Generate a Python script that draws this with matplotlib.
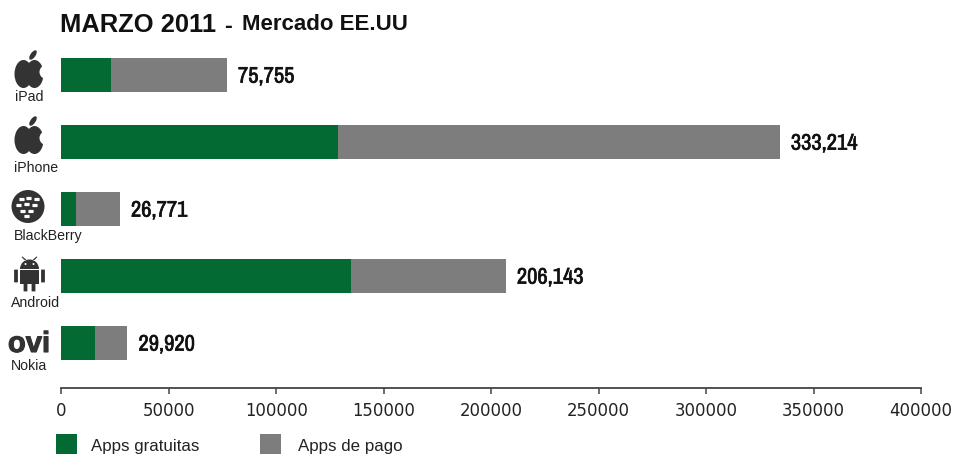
import matplotlib
matplotlib.use("Agg")
import matplotlib.pyplot as plt
import matplotlib.patheffects as pe
from matplotlib.patches import Ellipse, Circle, Rectangle, FancyBboxPatch, Polygon, Wedge
from matplotlib import font_manager as fm

platforms = ["iPad", "iPhone", "BlackBerry", "Android", "Nokia"]
free_apps = [23000, 128700, 6750, 134700, 15400]
paid_apps = [54000, 205600, 20450, 72100, 15300]
total_labels = ["75,755", "333,214", "26,771", "206,143", "29,920"]
xticks = [0, 50000, 100000, 150000, 200000, 250000, 300000, 350000, 400000]
GREEN = "#026a32"
GRAY = "#7d7d7d"
DARK = "#333333"

names = sorted({f.name for f in fm.fontManager.ttflist})
cands = [n for n in names if ("Narrow" in n or "Condensed" in n) and "DejaVu" not in n]
narrow = cands[0] if cands else "Liberation Sans"
label_size = 16.2 if cands else 14

W, H = 956, 454
fig = plt.figure(figsize=(W / 100, H / 100), dpi=100, facecolor="white")
ax = fig.add_axes([61.5 / W, 1 - 388 / H, (921 - 61.5) / W, (388 - 41) / H])
ax.set_xlim(0, 400000)
ax.set_ylim(4.67, -0.51)
ypos = list(range(len(platforms)))
ax.barh(ypos, free_apps, height=0.507, color=GREEN, linewidth=0)
ax.barh(ypos, paid_apps, left=free_apps, height=0.507, color=GRAY, linewidth=0)
for y, f, p, lab in zip(ypos, free_apps, paid_apps, total_labels):
    ax.annotate(lab, (f + p, y), xytext=(11, -1.5), textcoords="offset pixels", va="center", ha="left",
                fontsize=label_size, fontweight="bold", family=narrow, color="#111111",
                path_effects=[pe.withStroke(linewidth=0.45, foreground="#111111")])
for s in ("top", "left", "right"):
    ax.spines[s].set_visible(False)
ax.spines["bottom"].set_color("#444444")
ax.spines["bottom"].set_linewidth(1.3)
ax.set_yticks([])
ax.set_xticks(xticks)
ax.set_xticklabels([str(t) for t in xticks], fontsize=11.9, family="DejaVu Sans", color="#222222")
ax.tick_params(axis="x", length=4, width=1.1, color="#444444", pad=6)

ov = fig.add_axes([0, 0, 1, 1], facecolor="none")
ov.set_xlim(0, W)
ov.set_ylim(H, 0)
ov.axis("off")
ov.set_aspect("equal")
ov.text(60, 25, "MARZO 2011", fontsize=18.4, fontweight="bold", family="Liberation Sans", va="center", color="#111111")
ov.text(224, 26, "-", fontsize=17, fontweight="bold", family="Liberation Sans", va="center", color="#111111")
ov.text(242, 25, "Mercado EE.UU", fontsize=16, fontweight="bold", family="Liberation Sans", va="center", color="#111111")

def apple(cx, cy):
    ov.add_patch(Ellipse((cx - 6.5, cy + 3), 18, 28, color=DARK, lw=0))
    ov.add_patch(Ellipse((cx + 4.5, cy + 3), 18, 28, color=DARK, lw=0))
    ov.add_patch(Circle((cx + 16.5, cy + 1), 7, color="white", lw=0))
    ov.add_patch(Ellipse((cx - 1, cy - 11), 5, 3, color="white", lw=0))
    ov.add_patch(Ellipse((cx + 3, cy - 16), 5, 11, angle=35, color=DARK, lw=0))

def blackberry(cx, cy):
    ov.add_patch(Circle((cx, cy), 16.5, color=DARK, lw=0))
    for dx, dy in [(-6, -7), (1, -8), (9, -7), (-9, -1), (-1, -2), (7, -1), (-5, 5), (3, 5), (-1, 10)]:
        ov.add_patch(FancyBboxPatch((cx + dx - 2, cy + dy - 1), 4, 2, boxstyle="round,pad=0.6", color="white", lw=0))

def android(cx, cy):
    ov.add_patch(Wedge((cx, cy - 6), 9.5, 180, 360, color=DARK, lw=0))
    ov.add_patch(Rectangle((cx - 9.5, cy - 5), 19, 14, color=DARK, lw=0))
    ov.add_patch(Polygon([(cx - 5, cy - 15), (cx - 8, cy - 18), (cx - 7, cy - 18.5), (cx - 3, cy - 15)], color=DARK, lw=0))
    ov.add_patch(Polygon([(cx + 5, cy - 15), (cx + 8, cy - 18), (cx + 7, cy - 18.5), (cx + 3, cy - 15)], color=DARK, lw=0))
    ov.add_patch(Circle((cx - 4, cy - 11), 1, color="white", lw=0))
    ov.add_patch(Circle((cx + 4, cy - 11), 1, color="white", lw=0))
    for dx in (-15, 12):
        ov.add_patch(FancyBboxPatch((cx + dx, cy - 5), 3, 12, boxstyle="round,pad=0.4", color=DARK, lw=0))
    for dx in (-5.5, 2.5):
        ov.add_patch(FancyBboxPatch((cx + dx, cy + 9), 3, 7, boxstyle="round,pad=0.4", color=DARK, lw=0))

apple(30, 71)
apple(30, 137)
blackberry(28, 206.5)
android(29.5, 275)
ov.text(29, 352, "ovi", fontsize=21, fontweight="bold", family="Liberation Sans", color=DARK, ha="center", va="baseline",
        path_effects=[pe.withStroke(linewidth=0.8, foreground=DARK)])

cap_x = [29, 36.5, 48, 35.5, 29.5]
cap_y = [97, 168, 236, 303, 366]
for n, x, y in zip(platforms, cap_x, cap_y):
    ov.text(x, y, n, fontsize=10.2, family="Liberation Sans", ha="center", va="center", color="#222222")

ov.add_patch(Rectangle((56.5, 434), 21, 20, color=GREEN, lw=0))
ov.add_patch(Rectangle((260, 434), 21, 20, color=GRAY, lw=0))
ov.text(91, 446, "Apps gratuitas", fontsize=12.2, family="Liberation Sans", va="center", color="#222222")
ov.text(298, 446, "Apps de pago", fontsize=12.2, family="Liberation Sans", va="center", color="#222222")

fig.savefig("out.png", dpi=100, facecolor="white")
